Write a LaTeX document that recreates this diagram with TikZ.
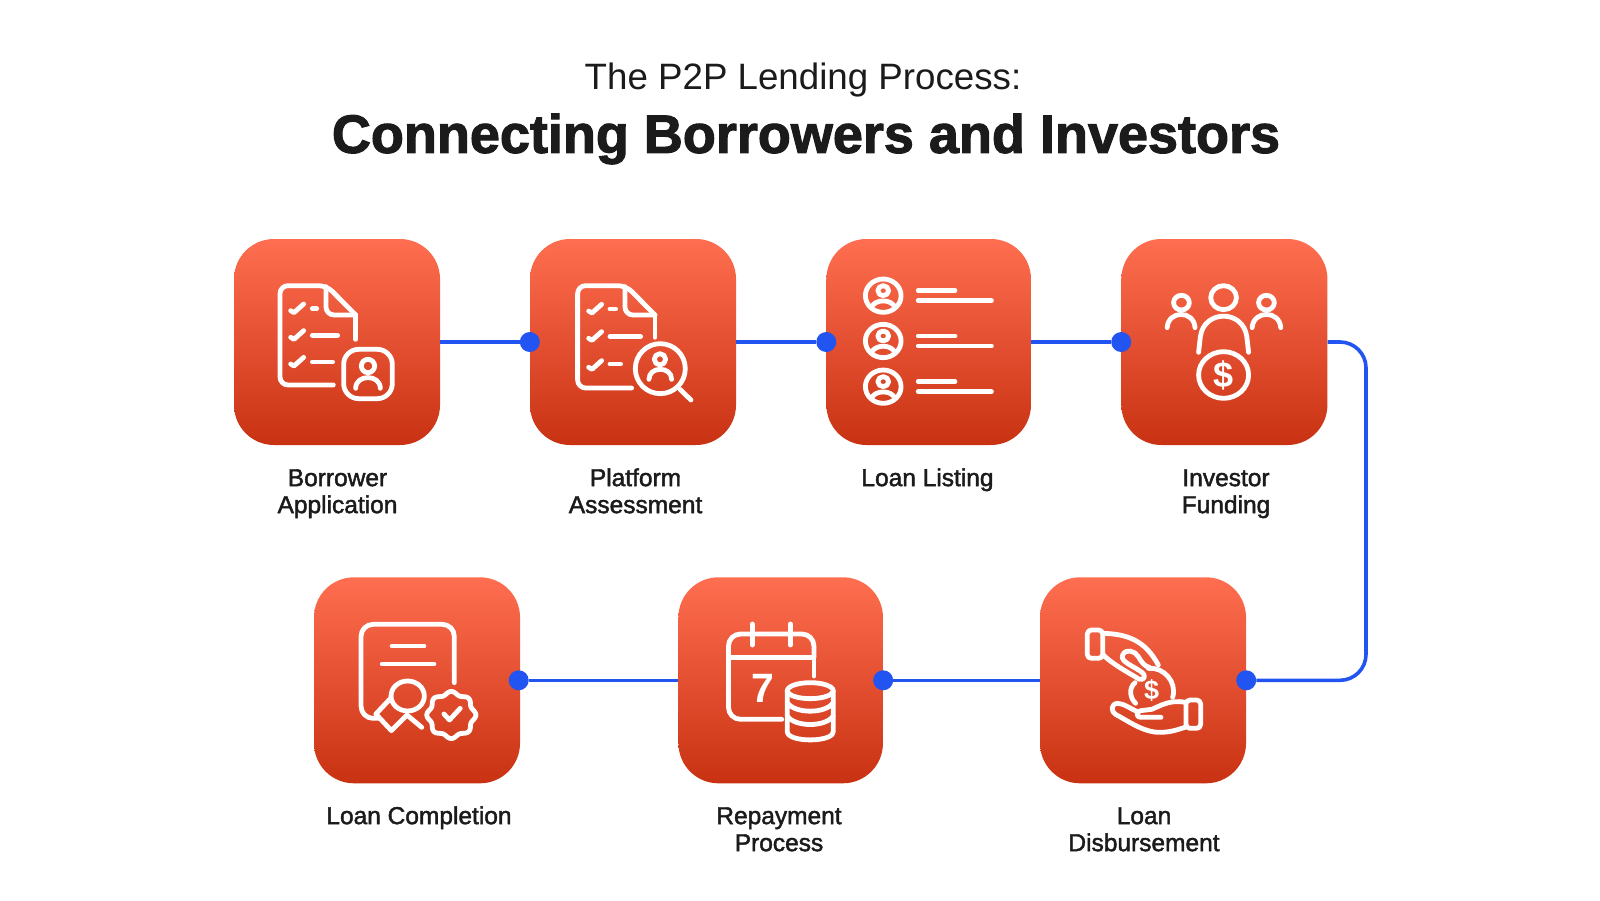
\documentclass[tikz,border=0pt]{standalone}
\usepackage{fontspec}
\setmainfont{Liberation Sans}
\newfontfamily\medfont[FakeBold=1.8]{Liberation Sans}
\newfontfamily\regfont{Liberation Sans}
\newfontfamily\boldfont[FakeBold=2]{Liberation Sans Bold}
\newfontfamily\glyphfont{Liberation Sans Bold}
\definecolor{wire}{HTML}{2154F0}
\definecolor{boxtop}{HTML}{FF6E50}
\definecolor{boxbot}{HTML}{C83212}
\definecolor{ink}{HTML}{1B1B1B}
\tikzset{
  tile/.style={rectangle,rounded corners=40pt,minimum width=206pt,minimum height=206pt,inner sep=0pt,top color=boxtop,bottom color=boxbot,shading angle=0},
  junction/.style={circle,fill=wire,minimum size=20pt,inner sep=0pt},
  wireline/.style={draw=wire,line width=3.6pt},
  ico/.style={draw=white,line width=4.8pt,line cap=round,line join=round},
  steplabel/.style={align=center,anchor=north,inner sep=0pt,text=ink,font=\medfont\fontsize{24.5pt}{27pt}\selectfont},
  glyph/.style={text=white,inner sep=0pt},
}
\newcommand{\tick}[2]{\draw[ico] (#1,#2) -- ++(10,6) -- ++(29,-26);}
\begin{document}
\begin{tikzpicture}[x=1pt,y=-1pt]
\useasboundingbox (0,0) rectangle (1600,900);
\node[tile] (b1) at (337,342) {};
\node[tile] (b2) at (633,342) {};
\node[tile,minimum width=204.5pt] (b3) at (928.7,342) {};
\node[tile] (b4) at (1224.4,342) {};
\node[tile] (b5) at (1143,680.3) {};
\node[tile,minimum width=204.5pt] (b6) at (780.7,680.3) {};
\node[tile] (b7) at (417,680.3) {};
\node[junction] (d2) at (b2.west) {};
\node[junction] (d3) at (b3.west) {};
\node[junction] (d4) at (b4.west) {};
\node[junction] (d5) at (b5.east) {};
\node[junction] (d6) at (b6.east) {};
\node[junction,xshift=-1.5pt] (d7) at (b7.east) {};
\coordinate (turn1) at (1366,342);
\coordinate (turn2) at (1366,680.3);
\draw[wireline] (b1.east) -- (d2);
\draw[wireline] (b2.east) -- (d3);
\draw[wireline] (b3.east) -- (d4);
\draw[wireline,rounded corners=26pt] (b4.east) -- (turn1) -- (turn2) -- (d5);
\draw[wireline] (b5.west) -- (d6);
\draw[wireline] (b6.west) -- (d7);

% titles
\node[inner sep=0pt,text=ink,font=\regfont\fontsize{36.7pt}{40pt}\selectfont] (t1) at (803,80) {The P2P Lending Process:};
\node[inner sep=0pt,text=ink,font=\boldfont\fontsize{54pt}{60pt}\selectfont] (t2) at (806,139) {Connecting Borrowers and Investors};

% labels
\node[steplabel] (l1) at (337.5,467) {\strut Borrower\\Application};
\node[steplabel] (l2) at (635.5,467) {\strut Platform\\Assessment};
\node[steplabel] (l3) at (927.5,467) {\strut Loan Listing};
\node[steplabel] (l4) at (1226,467) {\strut Investor\\Funding};
\node[steplabel] (l5) at (1144,805) {\strut Loan\\Disbursement};
\node[steplabel] (l6) at (779,805) {\strut Repayment\\Process};
\node[steplabel] (l7) at (419,805) {\strut Loan Completion};

% icons 1 and 2
\begin{scope}[shift={(225,230)},x=0.3333pt,y=-0.3333pt]
\draw[ico,rounded corners=8pt] (325,465) -- (165,465) -- (165,167) -- (305,167) -- (392,255);
\draw[ico] (392,255) -- (392,328);
\draw[ico,rounded corners=8pt] (303,170) -- (303,255) -- (392,255);
\tick{197}{242}\tick{197}{322}\tick{197}{402}
\draw[ico] (262,236) -- (275,236);
\draw[ico] (262,316) -- (338,316);
\draw[ico] (262,396) -- (323,396);
\draw[ico,rounded corners=15pt] (356,358) rectangle (502,506);
\draw[ico] (429,408) circle (20);
\draw[ico] (392,475) .. controls (392,432) and (466,432) .. (466,475);
% icon 2
\draw[ico,rounded corners=8pt] (1220,474) -- (1058,474) -- (1058,167) -- (1203,167) -- (1290,255);
\draw[ico] (1290,255) -- (1290,322);
\draw[ico,rounded corners=8pt] (1200,170) -- (1200,255) -- (1290,255);
\tick{1091}{243}\tick{1091}{325}\tick{1091}{412}
\draw[ico] (1155,237) -- (1172,237);
\draw[ico] (1155,320) -- (1247,320);
\draw[ico] (1155,402) -- (1187,402);
\draw[ico] (1306,416) circle (75);
\draw[ico] (1365,478) -- (1398,510);
\draw[ico] (1305,388) circle (17);
\draw[ico] (1272,448) .. controls (1272,408) and (1340,408) .. (1340,448);
\end{scope}

% icons 3 and 4
\begin{scope}[shift={(820,230)},x=0.35714pt,y=-0.3333pt]
\foreach \ry in {197,333,470}{
  \draw[ico] (177,\ry) circle (50);
  \draw[ico] (177,\ry-15) circle (15);
  \draw[ico] (144,\ry+36) .. controls (152,\ry+9) and (202,\ry+9) .. (210,\ry+36);
  \draw[ico] (275,\ry-15) -- (378,\ry-15);
  \draw[ico] (275,\ry+15) -- (480,\ry+15);
}
\draw[ico] (1130,203) circle (36);
\draw[ico] (1012,218) circle (22);
\draw[ico] (1250,218) circle (22);
\draw[ico] (972,293) .. controls (975,240) and (1047,240) .. (1050,293);
\draw[ico] (1210,293) .. controls (1213,240) and (1287,240) .. (1290,293);
\draw[ico] (1060,367) -- (1065,320) .. controls (1075,238) and (1185,238) .. (1195,320) -- (1200,367);
\draw[ico] (1130,435) circle (70);
\node[glyph,font=\glyphfont\fontsize{36pt}{36pt}\selectfont] (dollar1) at (1130,436) {\$};
\end{scope}

% icon 5
\begin{scope}[shift={(1080,620)},x=0.3333pt,y=-0.3333pt]
\draw[ico,rounded corners=4pt] (22,30) rectangle (68,115);
\draw[ico] (70,40) .. controls (140,42) and (195,60) .. (235,135);
\draw[ico] (70,105) .. controls (100,135) and (150,160) .. (178,178) .. controls (195,182) and (197,165) .. (187,158) .. controls (165,140) and (118,125) .. (128,105) .. controls (137,85) and (165,92) .. (175,110) .. controls (183,125) and (195,140) .. (208,142);
\draw[ico] (205,145) .. controls (250,140) and (292,185) .. (278,232);
\draw[ico] (165,188) .. controls (145,205) and (150,235) .. (167,250);
\node[glyph,font=\glyphfont\fontsize{27pt}{27pt}\selectfont] (dollar2) at (215,212) {\$};
\draw[ico,rounded corners=4pt] (318,240) rectangle (362,325);
\draw[ico] (315,247) .. controls (270,238) and (240,258) .. (215,268) -- (182,272) .. controls (168,275) and (168,292) .. (182,292) -- (243,292);
\draw[ico] (172,275) .. controls (150,265) and (130,250) .. (112,250) .. controls (92,252) and (92,275) .. (108,284) .. controls (140,300) and (190,338) .. (240,337) .. controls (270,337) and (290,330) .. (315,322);
\end{scope}

% icons 6 and 7
\begin{scope}[shift={(310,570)},x=0.37pt,y=-0.3333pt]
\draw[ico,rounded corners=12pt] (1275,448) -- (1131,448) -- (1131,192) -- (1362,192) -- (1362,260);
\draw[ico] (1362,255) -- (1362,318);
\draw[ico] (1131,262) -- (1362,262);
\draw[ico] (1195,162) -- (1195,225);
\draw[ico] (1298,162) -- (1298,225);
\node[glyph,font=\glyphfont\fontsize{41pt}{41pt}\selectfont] (seven) at (1223,355) {7};
\draw[ico] (1352,362) ellipse (62 and 24);
\draw[ico] (1290,362) -- (1290,485) .. controls (1290,518) and (1414,518) .. (1414,485) -- (1414,362);
\draw[ico] (1290,398) .. controls (1310,432) and (1394,432) .. (1414,398);
\draw[ico] (1290,438) .. controls (1310,472) and (1394,472) .. (1414,438);
% icon 7
\draw[ico,rounded corners=12pt] (390,338) -- (390,163) -- (138,163) -- (138,445) -- (185,445);
\draw[ico] (222,228) -- (308,228);
\draw[ico] (195,282) -- (335,282);
\draw[ico] (264,378) circle (45);
\draw[ico] (218,385) -- (178,432) -- (220,482) -- (262,435) -- (302,472);
\draw[ico,smooth,samples=145,domain=0:360] plot ({382+62*(1+0.07*cos(8*\x))*cos(\x)},{435+66*(1+0.07*cos(8*\x))*sin(\x)}) -- cycle;
\draw[ico] (362,432) -- (377,450) -- (406,415);
\end{scope}
\end{tikzpicture}
\end{document}
